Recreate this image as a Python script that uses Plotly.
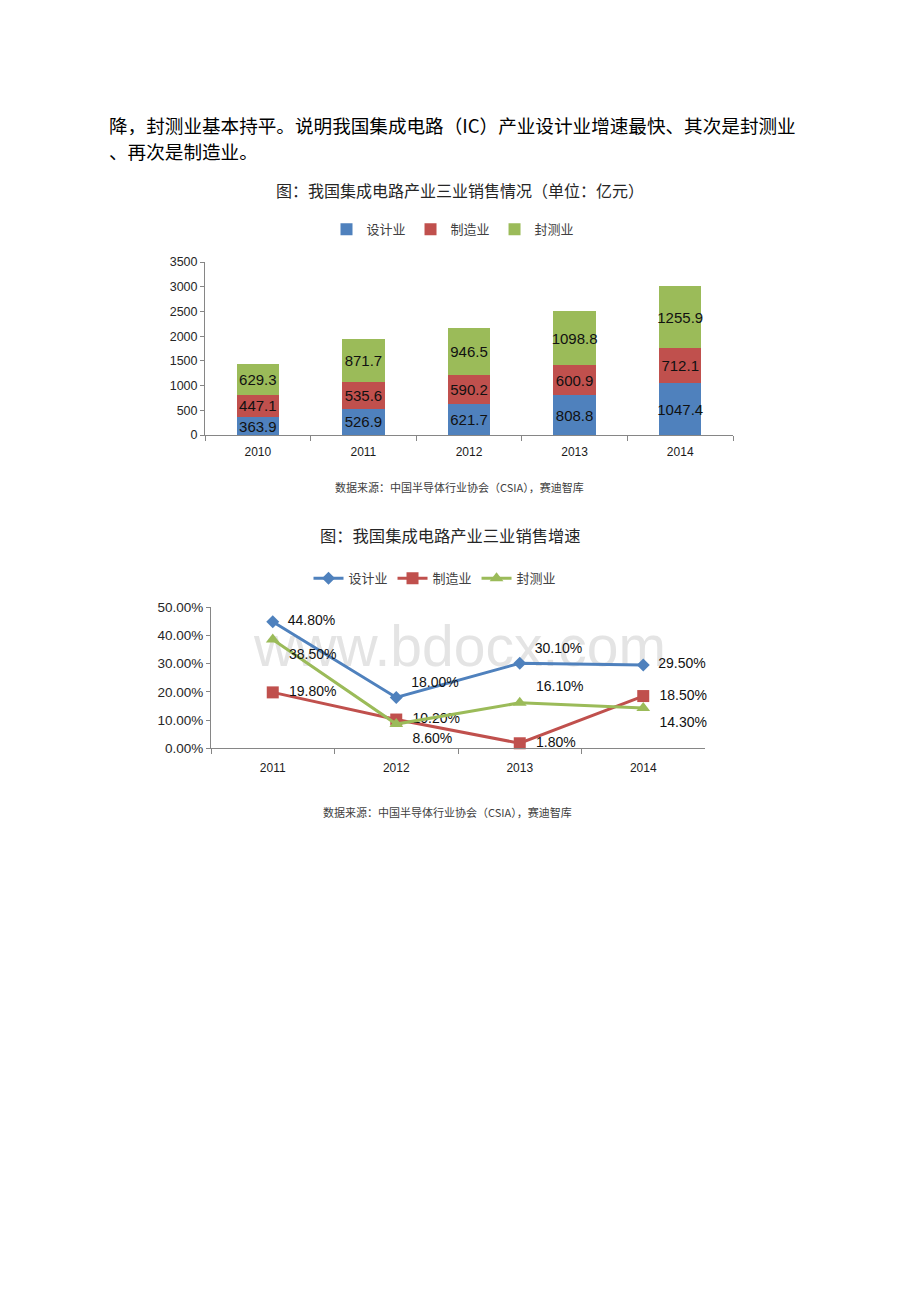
import plotly.graph_objects as go

# ---------------- data ----------------
years1 = ["2010", "2011", "2012", "2013", "2014"]
design1 = [363.9, 526.9, 621.7, 808.8, 1047.4]
manuf1 = [447.1, 535.6, 590.2, 600.9, 712.1]
package1 = [629.3, 871.7, 946.5, 1098.8, 1255.9]

years2 = ["2011", "2012", "2013", "2014"]
design2 = [0.448, 0.180, 0.301, 0.295]
manuf2 = [0.198, 0.102, 0.018, 0.185]
package2 = [0.385, 0.086, 0.161, 0.143]

series_names = ["设计业", "制造业", "封测业"]
colors = ["#4F81BD", "#C0504D", "#9BBB59"]

W, H = 920, 1302
CJK = "Noto Sans CJK SC"
LAT = "Liberation Sans"


def px(x):
    return x / W


def py(y):
    return 1 - y / H


fig = go.Figure()

# ---------------- chart 1: stacked bars ----------------
for name, vals, col in zip(series_names, [design1, manuf1, package1], colors):
    fig.add_trace(go.Bar(
        x=years1, y=vals, name=name, marker=dict(color=col, line=dict(width=0)),
        texttemplate="%{y:.1f}", textposition="inside", insidetextanchor="middle",
        textangle=0, constraintext="none",
        textfont=dict(family=LAT, size=15, color="#111111"),
        xaxis="x", yaxis="y", legend="legend", hoverinfo="skip",
    ))

# ---------------- chart 2: growth lines ----------------
line_specs = [
    (design2, "diamond", 10, ["middle right", "top right", "top right", "middle right"]),
    (manuf2, "square", 12, ["middle right", "middle right", "middle right", "middle right"]),
    (package2, "triangle-up", 12, ["bottom right", "bottom right", "top right", "bottom right"]),
]
for name, (vals, sym, size, tpos), col in zip(series_names, line_specs, colors):
    fig.add_trace(go.Scatter(
        x=years2, y=vals, name=name, mode="lines+markers+text",
        line=dict(color=col, width=3), marker=dict(symbol=sym, size=size, color=col),
        texttemplate="  %{y:.2%}", textposition=tpos,
        textfont=dict(family=LAT, size=14, color="#111111"),
        xaxis="x2", yaxis="y2", legend="legend2", hoverinfo="skip", cliponaxis=False,
    ))

axis_line = "#868686"
tick_font1 = dict(family=LAT, size=12.5, color="#262626")
tick_font2 = dict(family=LAT, size=13.5, color="#262626")
xtick_font = dict(family=LAT, size=12, color="#1a1a1a")

fig.update_layout(
    width=W, height=H,
    margin=dict(l=0, r=0, t=0, b=0),
    paper_bgcolor="white", plot_bgcolor="rgba(0,0,0,0)",
    barmode="stack", bargap=0.6,
    font=dict(family=CJK, color="#000000"),
    xaxis=dict(domain=[px(205), px(733)], anchor="y", type="category",
               range=[-0.5, len(years1) - 0.5],
               showline=True, linecolor=axis_line, linewidth=1,
               ticks="outside", tickson="boundaries", ticklen=5, tickcolor=axis_line,
               tickfont=xtick_font, ticklabelstandoff=6, showgrid=False),
    yaxis=dict(domain=[py(433), py(258)], anchor="x", range=[0, 3500], dtick=500,
               showline=True, linecolor=axis_line, linewidth=1,
               ticks="outside", ticklen=4, tickcolor=axis_line,
               tickfont=tick_font1, showgrid=False, zeroline=False),
    xaxis2=dict(domain=[px(211), px(705)], anchor="y2", type="category",
                range=[-0.5, len(years2) - 0.5],
                showline=True, linecolor=axis_line, linewidth=1,
                ticks="outside", tickson="boundaries", ticklen=5, tickcolor=axis_line,
                tickfont=xtick_font, ticklabelstandoff=8, showgrid=False),
    yaxis2=dict(domain=[py(750), py(607)], anchor="x2", range=[0, 0.5], dtick=0.1,
                tickformat=".2%",
                showline=True, linecolor=axis_line, linewidth=1,
                ticks="outside", ticklen=4, tickcolor=axis_line,
                tickfont=tick_font2, showgrid=False, zeroline=False),
    legend=dict(orientation="h", x=px(453), y=py(225), xanchor="center", yanchor="middle",
                font=dict(family=CJK, size=13, color="#404040"), bgcolor="rgba(0,0,0,0)",
                itemwidth=30, traceorder="normal"),
    legend2=dict(orientation="h", x=px(435), y=py(578), xanchor="center", yanchor="middle",
                 font=dict(family=CJK, size=13, color="#404040"), bgcolor="rgba(0,0,0,0)",
                 itemwidth=30, traceorder="normal"),
    showlegend=True,
)

# watermark (below traces)
fig.add_shape(type="rect", xref="paper", yref="paper",
              x0=px(240), x1=px(680), y0=py(670), y1=py(612),
              line=dict(width=0), fillcolor="rgba(0,0,0,0)", layer="below",
              label=dict(text="www.bdocx.com", textposition="middle center",
                         font=dict(family=LAT, size=57, color="#e4e4e4")))

# ---------------- texts ----------------
texts = [
    ("降，封测业基本持平。说明我国集成电路（IC）产业设计业增速最快、其次是封测业", 107, 118.5, 18.6, "#000000", "left"),
    ("、再次是制造业。", 107, 145.5, 18.6, "#000000", "left"),
    ("图：我国集成电路产业三业销售情况（单位：亿元）", 460, 185, 16, "#262626", "center"),
    ("数据来源：中国半导体行业协会（CSIA），赛迪智库", 459, 486, 11, "#404040", "center"),
    ("图：我国集成电路产业三业销售增速", 450, 534, 16.3, "#262626", "center"),
    ("数据来源：中国半导体行业协会（CSIA），赛迪智库", 447, 814, 11, "#404040", "center"),
]
for t, x, y, s, c, anc in texts:
    fig.add_annotation(text=t, xref="paper", yref="paper", x=px(x), y=py(y),
                       xanchor=anc, yanchor="middle", align="left", showarrow=False,
                       font=dict(family=CJK, size=s, color=c))

fig.write_html("out.html")
